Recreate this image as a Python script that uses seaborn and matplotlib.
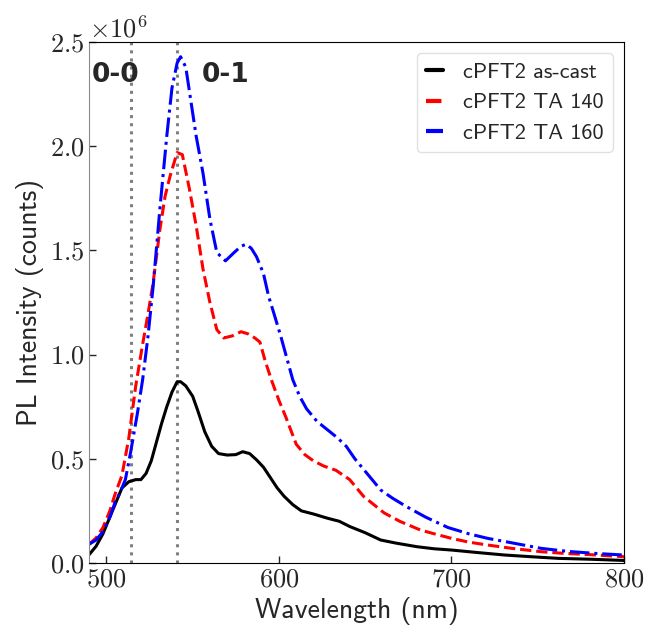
import seaborn as sns
import pandas as pd
import matplotlib.pyplot as plt
from matplotlib.ticker import ScalarFormatter

# PL spectra (intensity in units of 1e6 counts)
wl_ascast = [490, 494, 498, 502, 505, 509, 513, 517, 520, 523, 526, 529, 532, 535, 538, 541, 543, 546, 550, 553,
             557, 561, 565, 570, 575, 579, 583, 587, 591, 595, 599, 603, 608, 613, 620, 628, 635, 641, 650, 659,
             668, 680, 690, 700, 715, 731, 746, 762, 780, 800]
pl_ascast = [0.04, 0.08, 0.14, 0.22, 0.28, 0.36, 0.39, 0.40, 0.40, 0.43, 0.49, 0.58, 0.67, 0.75, 0.82, 0.87, 0.87, 0.85, 0.80, 0.73,
             0.63, 0.56, 0.525, 0.518, 0.52, 0.534, 0.525, 0.495, 0.46, 0.41, 0.36, 0.32, 0.28, 0.25, 0.235, 0.215, 0.20, 0.175, 0.145, 0.11,
             0.095, 0.078, 0.068, 0.062, 0.05, 0.038, 0.03, 0.022, 0.018, 0.012]

wl_ta140 = [490, 494, 498, 502, 505, 509, 513, 517, 521, 524, 527, 531, 534, 537, 541, 544, 548, 552, 556, 560,
            564, 568, 573, 578, 582, 586, 589, 592, 596, 600, 604, 610, 615, 620, 626, 633, 641, 649, 655, 661,
            670, 682, 690, 700, 710, 721, 735, 752, 765, 780, 800]
pl_ta140 = [0.09, 0.12, 0.17, 0.25, 0.33, 0.42, 0.60, 0.85, 1.05, 1.19, 1.34, 1.60, 1.76, 1.86, 1.97, 1.96, 1.80, 1.62, 1.41, 1.25,
            1.12, 1.08, 1.09, 1.11, 1.10, 1.08, 1.06, 0.97, 0.87, 0.78, 0.70, 0.57, 0.52, 0.49, 0.465, 0.445, 0.40, 0.32, 0.28, 0.24,
            0.20, 0.158, 0.14, 0.118, 0.10, 0.086, 0.07, 0.054, 0.046, 0.04, 0.03]

wl_ta160 = [490, 494, 498, 502, 505, 508, 511, 514, 518, 521, 524, 527, 531, 535, 538, 541, 543, 546, 548, 552,
            556, 560, 564, 569, 574, 578, 581, 584, 587, 591, 594, 597, 601, 605, 608, 612, 616, 622, 628, 634,
            639, 644, 649, 654, 659, 666, 674, 685, 698, 710, 721, 736, 752, 768, 785, 800]
pl_ta160 = [0.09, 0.11, 0.15, 0.22, 0.29, 0.34, 0.40, 0.53, 0.72, 0.88, 1.08, 1.32, 1.70, 2.05, 2.28, 2.40, 2.43, 2.38, 2.27, 2.05,
            1.87, 1.65, 1.49, 1.45, 1.49, 1.52, 1.53, 1.51, 1.47, 1.39, 1.28, 1.20, 1.09, 0.97, 0.88, 0.80, 0.74, 0.68, 0.64, 0.60,
            0.56, 0.50, 0.45, 0.40, 0.35, 0.31, 0.27, 0.22, 0.17, 0.14, 0.118, 0.095, 0.07, 0.055, 0.045, 0.038]

labels = ['cPFT2 as-cast', 'cPFT2 TA 140', 'cPFT2 TA 160']
peak_lines = [514, 541]

sns.set_style('white')
plt.rcParams['font.family'] = 'cmr10'
plt.rcParams['mathtext.fontset'] = 'cm'
plt.rcParams['axes.formatter.use_mathtext'] = True

fig = plt.figure(figsize=(6.46, 6.29), dpi=100)
ax = fig.add_axes([0.138, 0.105, 0.828, 0.828])

series = [(wl_ascast, pl_ascast, 'black', '-'),
          (wl_ta140, pl_ta140, 'red', '--'),
          (wl_ta160, pl_ta160, 'blue', '-.')]
for (wl, pl, col, ls), lab in zip(series, labels):
    df = pd.DataFrame({'wl': wl, 'pl': [v * 1e6 for v in pl]})
    sns.lineplot(data=df, x='wl', y='pl', ax=ax, color=col, linestyle=ls, linewidth=2.2, label=lab)

for x in peak_lines:
    ax.axvline(x, color='grey', linestyle=':', linewidth=2.2, zorder=0)

ax.text(491.5, 2.34e6, '0-0', fontsize=19, fontweight='bold', family='DejaVu Sans', va='center')
ax.text(555, 2.34e6, '0-1', fontsize=19, fontweight='bold', family='DejaVu Sans', va='center')

ax.set_xlim(490, 800)
ax.set_ylim(0, 2.5e6)
ax.set_xticks([500, 600, 700, 800])
ax.set_yticks([0, 0.5e6, 1.0e6, 1.5e6, 2.0e6, 2.5e6])
fmt = ScalarFormatter(useMathText=True)
fmt.set_powerlimits((0, 0))
ax.yaxis.set_major_formatter(fmt)
ax.yaxis.get_offset_text().set_fontsize(19)

ax.tick_params(direction='in', length=5, width=1, labelsize=19, bottom=True, left=True)
for side in ['top', 'right', 'bottom']:
    ax.spines[side].set_color('black')
ax.spines['left'].set_color('0.55')

ax.set_xlabel('Wavelength (nm)', fontsize=20, family='cmss10')
ax.set_ylabel('PL Intensity (counts)', fontsize=20, family='cmss10')

leg = ax.legend(loc='upper right', prop={'family': 'cmss10', 'size': 16}, handlelength=0.8,
                handletextpad=0.9, frameon=True, fancybox=True, edgecolor='0.85')
for line in leg.get_lines():
    line.set_linewidth(3)

fig.savefig('out.png', dpi=100)
